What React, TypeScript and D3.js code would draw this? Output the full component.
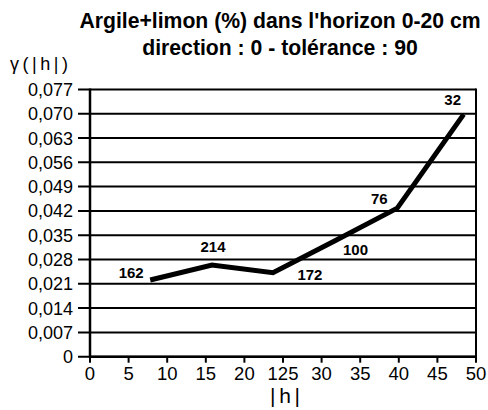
import React from "react";
import * as d3 from "d3";

const lags = [7.8, 15.8, 23.7, 31.8, 39.8, 48.4];
const gammaValues = [0.0221, 0.0264, 0.0242, 0.0335, 0.0428, 0.0698];
const pairCounts = ["162", "214", "172", "100", "76", "32"];
const yTicks = [0, 0.007, 0.014, 0.021, 0.028, 0.035, 0.042, 0.049, 0.056, 0.063, 0.07, 0.077];
const yTickLabels = ["0", "0,007", "0,014", "0,021", "0,028", "0,035", "0,042", "0,049", "0,056", "0,063", "0,070", "0,077"];
const xTicks = [0, 5, 10, 15, 20, 25, 30, 35, 40, 45, 50];
const xTickLabels = ["0", "5", "10", "15", "20", "125", "30", "35", "40", "45", "50"];
const titleLines = ["Argile+limon (%) dans l'horizon 0-20 cm", "direction : 0 - tolérance : 90"];

// label offsets (layout only)
const labelDx = [-19, 1, 37, 20, -18, -11];
const labelDy = [-2, -13, 7, 15, -4, -9];

const W = 488, H = 410;
const left = 90, right = 476, top = 89.4, bottom = 356.7;

export default function App() {
  const x = d3.scaleLinear().domain([0, 50]).range([left, right]);
  const y = d3.scaleLinear().domain([0, 0.077]).range([bottom, top]);
  const pts: [number, number][] = lags.map((l, i) => [l, gammaValues[i]]);
  const line = d3.line<[number, number]>().x(d => x(d[0])).y(d => y(d[1]));
  const font = "'Liberation Sans', Arial, Helvetica, sans-serif";
  return (
    <svg width={W} height={H} style={{ position: "absolute", left: 0, top: 0, background: "#fff" }} fontFamily={font}>
      <rect x={0} y={0} width={W} height={H} fill="#fff" />
      {titleLines.map((t, i) => (
        <text key={i} x={280} y={28 + i * 27} textAnchor="middle" fontWeight="bold" fontSize={21.2} fill="#000">{t}</text>
      ))}
      <text x={10} y={70} fontSize={18} fill="#000" textLength={58} lengthAdjust="spacing">γ(|h|)</text>
      {yTicks.map((v, i) => (
        <g key={i}>
          <line x1={left - 12} x2={right} y1={y(v)} y2={y(v)} stroke="#000" strokeWidth={2} />
          <text x={73} y={y(v) + 6.5} textAnchor="end" fontSize={18} fill="#000">{yTickLabels[i]}</text>
        </g>
      ))}
      {xTicks.map((v, i) => (
        <g key={i}>
          <line x1={x(v)} x2={x(v)} y1={bottom} y2={bottom + 6} stroke="#000" strokeWidth={2} />
          <text x={x(v)} y={380} textAnchor="middle" fontSize={18.5} fill="#000">{xTickLabels[i]}</text>
        </g>
      ))}
      <text x={285} y={403} textAnchor="middle" fontSize={21} fill="#000" textLength={30} lengthAdjust="spacing">|h|</text>
      <line x1={left} x2={left} y1={top - 1} y2={bottom + 1} stroke="#000" strokeWidth={2.5} />
      <line x1={right} x2={right} y1={top - 1} y2={bottom + 1} stroke="#000" strokeWidth={2} />
      <line x1={left} x2={right} y1={bottom} y2={bottom} stroke="#000" strokeWidth={2.5} />
      <path d={line(pts) || ""} fill="none" stroke="#000" strokeWidth={5} strokeLinejoin="miter" />
      {pts.map((p, i) => (
        <text key={i} x={x(p[0]) + labelDx[i]} y={y(p[1]) + labelDy[i]} textAnchor="middle" fontWeight="bold" fontSize={15} fill="#000">{pairCounts[i]}</text>
      ))}
    </svg>
  );
}
